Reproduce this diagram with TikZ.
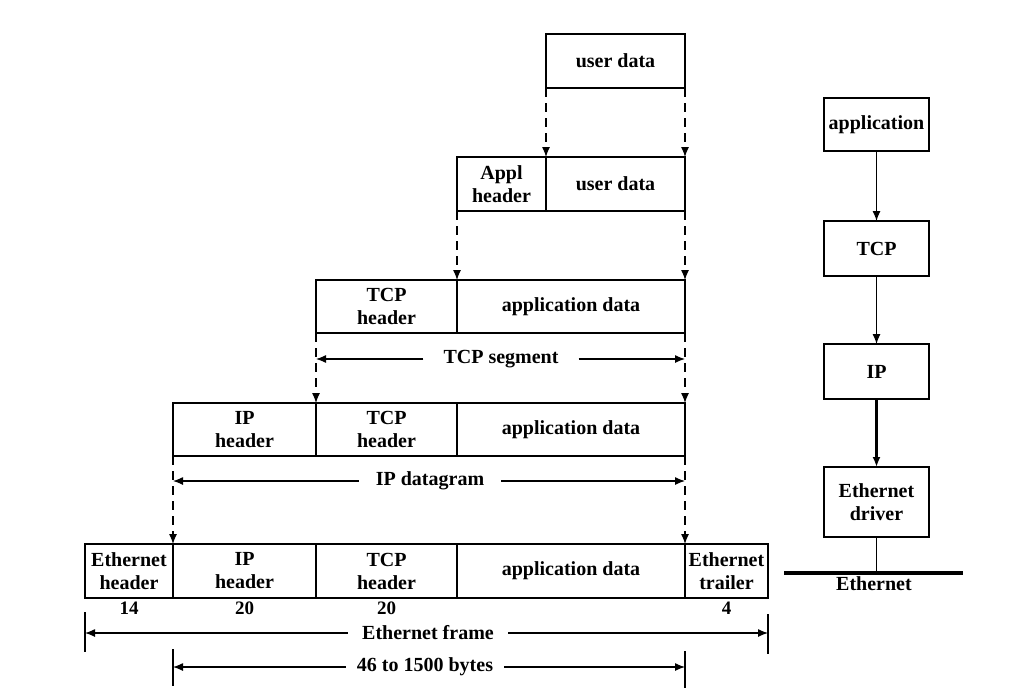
\documentclass[tikz,border=0pt]{standalone}
\usepackage{fontspec}
\setmainfont{Liberation Serif}
\usetikzlibrary{arrows.meta,calc}
\begin{document}
\begin{tikzpicture}[x=1pt,y=-1pt,
  cell/.style={draw, line width=1.2pt, inner sep=0pt, outer sep=0pt, align=center,
    font=\fontsize{20}{23}\selectfont\bfseries},
  num/.style={inner sep=0pt, font=\fontsize{19}{22}\selectfont\bfseries},
  dimlabel/.style={inner xsep=14pt, inner ysep=0pt, font=\fontsize{20}{23}\selectfont\bfseries},
  dasharrow/.style={line width=1.2pt, dash pattern=on 9pt off 6pt, -{Latex[length=10pt,width=8pt]}},
  dimarrow/.style={line width=1.2pt, -{Latex[length=10pt,width=8pt]}},
  solidarrow/.style={line width=1.2pt, -{Latex[length=10pt,width=8pt]}},
  tick/.style={line width=1.4pt}
]
\useasboundingbox (0,0) rectangle (1019,694);
% row 0
\node[cell, minimum width=139pt, minimum height=54pt] (ud0) at (615.5,61) {user data};
% row 1
\node[cell, minimum width=89pt, minimum height=54pt] (ah) at (501.5,184) {Appl\\header};
\node[cell, minimum width=139pt, minimum height=54pt] (ud1) at (615.5,184) {user data};
% row 2
\node[cell, minimum width=141pt, minimum height=53pt] (th2) at (386.5,306.5) {TCP\\header};
\node[cell, minimum width=228pt, minimum height=53pt] (ad2) at (571,306.5) {application data};
% row 3
\node[cell, minimum width=143pt, minimum height=53pt] (ih3) at (244.5,429.5) {IP\\header};
\node[cell, minimum width=141pt, minimum height=53pt] (th3) at (386.5,429.5) {TCP\\header};
\node[cell, minimum width=228pt, minimum height=53pt] (ad3) at (571,429.5) {application data};
% row 4
\node[cell, minimum width=88pt, minimum height=54pt] (eh) at (129,571) {Ethernet\\header};
\node[cell, minimum width=143pt, minimum height=54pt] (ih4) at (244.5,571) {IP\\header};
\node[cell, minimum width=141pt, minimum height=54pt] (th4) at (386.5,571) {TCP\\header};
\node[cell, minimum width=228pt, minimum height=54pt] (ad4) at (571,571) {application data};
\node[cell, minimum width=83pt, minimum height=54pt] (et) at (726.5,571) {Ethernet\\trailer};
% byte counts
\node[num] (n14) at ([yshift=-10pt]eh.south) {14};
\node[num] (n20a) at ([yshift=-10pt]ih4.south) {20};
\node[num] (n20b) at ([yshift=-10pt]th4.south) {20};
\node[num] (n4) at ([yshift=-10pt]et.south) {4};
% dashed encapsulation arrows
\draw[dasharrow] (ud0.south west) -- (ud1.north west);
\draw[dasharrow] (ud0.south east) -- (ud1.north east);
\draw[dasharrow] (ah.south west) -- (th2.north east);
\draw[dasharrow] (ud1.south east) -- (ad2.north east);
\draw[dasharrow] (th2.south west) -- (th3.north west);
\draw[dasharrow] (ad2.south east) -- (ad3.north east);
\draw[dasharrow] (ih3.south west) -- (ih4.north west);
\draw[dasharrow] (ad3.south east) -- (ad4.north east);
% TCP segment
\node[dimlabel, inner xsep=20pt] (tseg) at (501,359) {TCP segment};
\draw[dimarrow] (tseg.west) -- (tseg.west -| th2.west);
\draw[dimarrow] (tseg.east) -- (tseg.east -| ad2.east);
% IP datagram
\node[dimlabel, inner xsep=17pt] (idg) at (430,481) {IP datagram};
\draw[dimarrow] (idg.west) -- (idg.west -| ih3.west);
\draw[dimarrow] (idg.east) -- (idg.east -| ad3.east);
% Ethernet frame
\node[dimlabel, inner xsep=14pt] (efr) at (428,633) {Ethernet frame};
\draw[dimarrow] (efr.west) -- (efr.west -| eh.west);
\draw[dimarrow] (efr.east) -- (efr.east -| et.east);
\coordinate (fl1) at (85,612); \coordinate (fl2) at (85,652);
\coordinate (fr1) at (768,614); \coordinate (fr2) at (768,654);
\draw[tick] (fl1) -- (fl2);
\draw[tick] (fr1) -- (fr2);
% 46 to 1500 bytes
\node[dimlabel, inner xsep=11pt] (pay) at (425,667) {46 to 1500 bytes};
\draw[dimarrow] (pay.west) -- (pay.west -| ih4.west);
\draw[dimarrow] (pay.east) -- (pay.east -| ad4.east);
\coordinate (pl1) at (173,649); \coordinate (pl2) at (173,686);
\coordinate (pr1) at (685,651); \coordinate (pr2) at (685,688);
\draw[tick] (pl1) -- (pl2);
\draw[tick] (pr1) -- (pr2);
% right stack
\node[cell, minimum width=105pt, minimum height=53pt] (app) at (876.5,124.5) {application};
\node[cell, minimum width=105pt, minimum height=55pt] (tcp) at (876.5,248.5) {TCP};
\node[cell, minimum width=105pt, minimum height=55pt] (ip) at (876.5,371.5) {IP};
\node[cell, minimum width=105pt, minimum height=70pt] (drv) at (876.5,502) {Ethernet\\driver};
\draw[solidarrow] (app.south) -- (tcp.north);
\draw[solidarrow] (tcp.south) -- (ip.north);
\draw[solidarrow, line width=2.2pt] (ip.south) -- (drv.north);
\coordinate (elL) at (784,573);
\coordinate (elR) at (963,573);
\draw[line width=3.5pt] (elL) -- (elR);
\draw[line width=1.2pt] (drv.south) -- (drv.south |- elL);
\node[num, font=\fontsize{20}{23}\selectfont\bfseries, anchor=north] (enet) at (874,576) {Ethernet};
\end{tikzpicture}
\end{document}
